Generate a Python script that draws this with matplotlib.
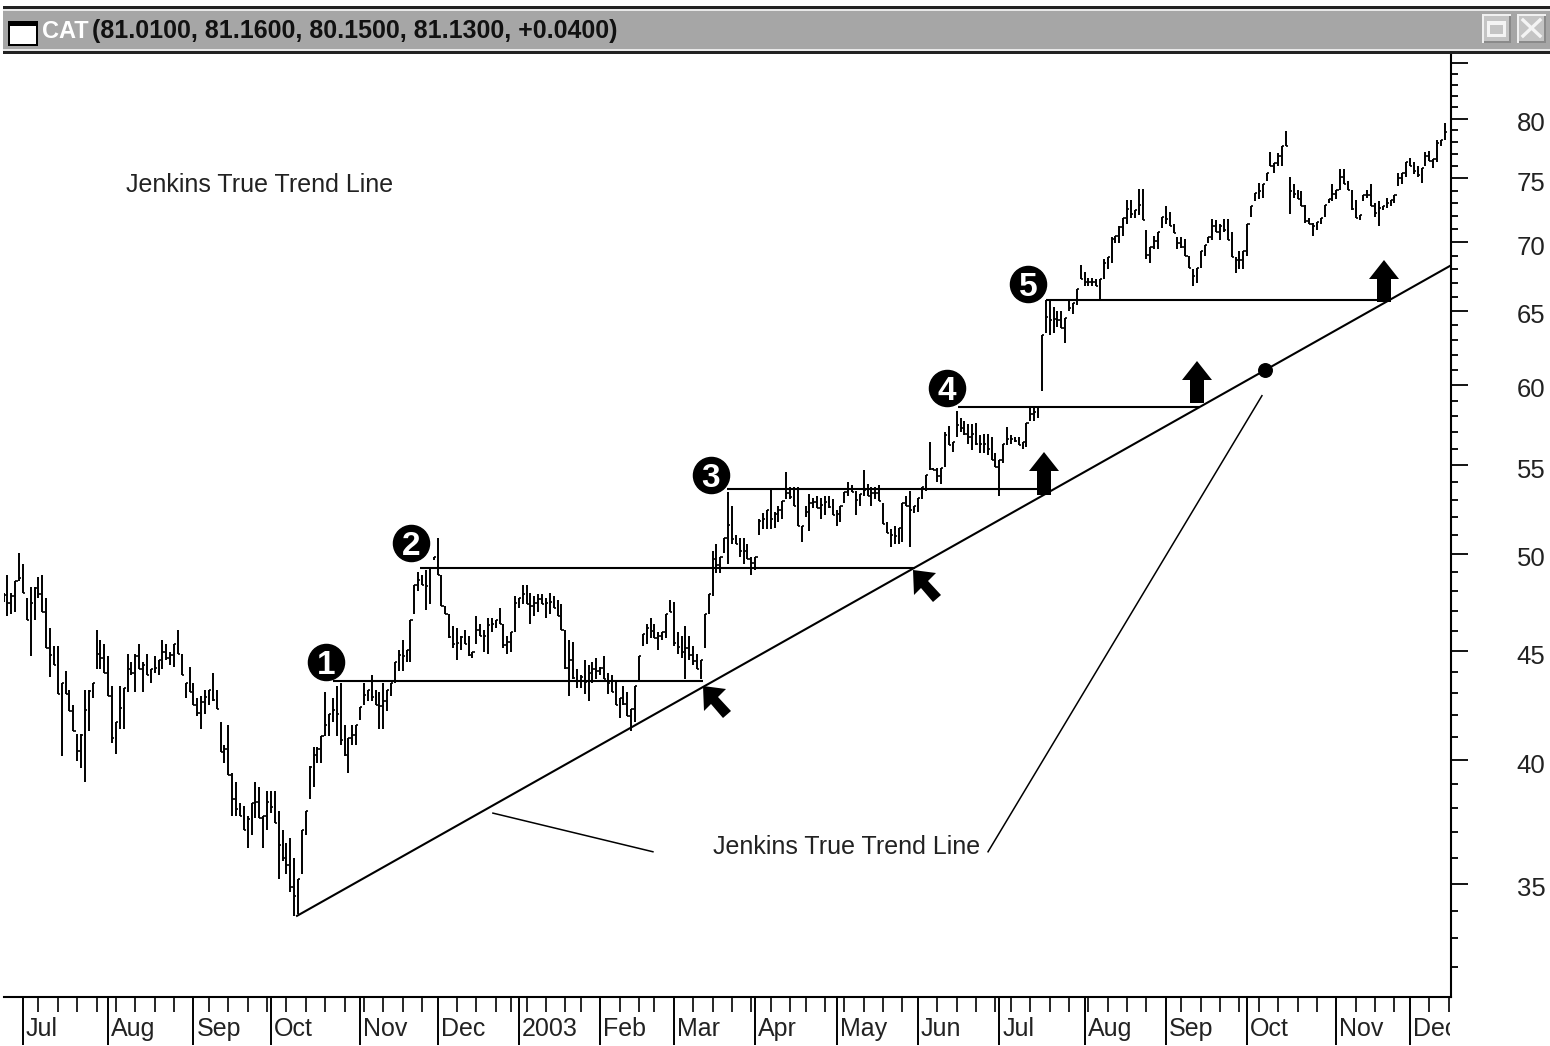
import numpy as np
import pandas as pd
import matplotlib
matplotlib.use("Agg")
import matplotlib.pyplot as plt
from matplotlib.patches import Rectangle, Polygon
from matplotlib.transforms import ScaledTranslation, Bbox
from matplotlib.ticker import FixedLocator, NullFormatter, FixedFormatter

plt.rcParams['font.family'] = ['Liberation Sans', 'DejaVu Sans']

jun02_hi = [48.1,49.0,48.1,48.7,50.2]
jun02_lo = [47.6,46.9,47.0,47.1,48.7]
jul02_hi = [49.6,47.8,48.4,48.4,48.9,49.0,47.8,46.3,45.4,45.4,43.6,44.2,43.3,42.6,41.3,41.3,43.3,43.3,43.6,46.2,45.7,45.5]
jul02_lo = [48.1,46.7,44.9,46.7,47.8,47.1,45.3,43.9,44.5,43.1,40.3,43.1,42.3,41.4,40.1,39.8,39.2,41.4,42.9,44.3,44.3,44.1]
aug02_hi = [44.9,43.5,41.8,43.5,43.4,45.0,44.6,45.0,45.5,44.6,45.0,44.3,44.9,44.7,45.7,45.5,45.1,45.5,46.2,45.0,43.6,44.4]
aug02_lo = [43.0,40.9,40.4,41.5,41.5,43.2,44.0,43.2,44.3,43.2,44.0,43.6,44.1,44.0,44.3,44.7,44.5,44.4,45.0,44.0,42.9,43.2]
sep02_hi = [43.6,42.9,43.0,43.3,43.3,44.1,43.3,41.8,40.8,41.7,39.6,39.2,38.3,38.2,37.8,38.3,39.2,39.0,37.8,38.8]
sep02_lo = [42.6,42.1,41.5,42.2,42.6,42.8,42.4,40.5,40.0,39.5,37.8,37.8,37.8,37.2,36.5,37.0,37.7,37.7,36.5,37.2]
oct02_hi = [38.8,38.8,38.0,37.2,36.7,36.9,36.1,35.3,37.2,38.0,39.9,40.7,40.7,41.2,43.2,42.2,42.9,43.5,43.6,41.7,41.1,41.7,41.7]
oct02_lo = [37.9,37.5,35.3,36.0,35.5,34.8,33.9,34.0,35.5,37.0,38.5,39.0,40.0,40.0,41.2,41.2,41.8,41.2,40.8,40.3,39.6,40.8,40.8]
nov02_hi = [42.5,43.6,43.3,44.0,43.3,43.2,43.6,43.3,43.6,44.6,45.2,45.7,45.2,46.7,48.5,49.2,49.0,49.3,49.4,50.0]
nov02_lo = [41.9,42.6,42.8,42.8,42.6,41.5,41.5,42.3,43.0,43.6,44.2,44.2,44.6,44.6,47.0,48.2,48.5,47.2,47.5,49.8]
dec02_hi = [51.0,49.0,47.4,47.0,46.4,46.3,45.9,46.2,45.9,45.1,46.9,46.5,46.2,46.8,46.8,46.7,47.3,46.5,45.9,46.1,47.9]
dec02_lo = [49.0,47.4,47.0,45.8,45.3,44.7,45.2,45.5,44.9,44.8,45.5,45.9,45.1,45.0,46.1,46.3,46.5,45.3,45.0,45.1,46.1]
jan03_hi = [47.8,48.5,48.5,48.1,47.9,48.0,48.0,47.8,48.1,47.9,47.7,47.5,46.2,45.7,45.6,44.3,44.0,44.7,44.5,44.6,44.8]
jan03_lo = [47.3,47.5,47.5,46.5,46.9,47.1,47.5,46.8,47.0,47.3,46.9,46.2,44.3,43.0,43.8,43.4,43.4,43.1,42.8,43.6,43.8]
feb03_hi = [44.4,44.9,44.1,44.0,43.7,42.9,43.5,43.2,42.4,43.5,44.9,46.0,46.5,46.8,46.5,46.1,46.1,47.0,47.7]
feb03_lo = [44.0,43.8,43.1,43.2,42.6,42.0,42.6,42.1,41.4,41.8,43.7,45.4,45.5,45.8,45.8,45.2,45.7,45.8,47.1]
mar03_hi = [47.6,46.1,45.9,46.4,45.9,45.4,45.0,44.7,47.0,48.0,50.3,50.7,50.0,51.0,53.6,52.8,51.2,51.0,51.0,50.7,50.0]
mar03_lo = [45.4,45.0,44.8,43.8,44.7,44.5,44.3,43.8,45.3,47.0,47.9,49.1,49.1,50.2,49.6,50.7,50.7,50.0,49.6,49.9,49.0]
apr03_hi = [50.0,52.1,52.4,52.6,53.8,52.5,52.8,53.1,54.8,53.9,53.9,53.9,51.7,52.8,53.5,53.3,53.4,53.3,53.4,53.4,53.2]
apr03_lo = [49.3,51.2,51.5,51.5,51.5,51.6,51.9,52.1,53.2,53.2,52.8,51.7,50.8,52.2,51.4,52.7,52.7,52.1,52.3,52.7,52.3]
may03_hi = [52.6,52.8,53.6,54.2,54.0,53.7,53.5,54.9,54.1,53.9,53.9,54.0,53.0,51.9,51.5,51.7,51.6,53.0,53.4,53.7,52.8]
may03_lo = [51.7,51.9,53.0,53.4,53.6,52.3,52.8,53.4,53.4,52.8,53.2,53.1,51.8,51.3,50.5,50.7,50.7,50.8,52.8,50.5,52.4]
jun03_hi = [53.3,53.9,54.6,56.6,55.0,55.0,55.0,57.2,57.6,56.6,58.5,58.1,57.9,57.7,57.7,57.8,57.0,57.1,57.1,56.9,55.9]
jun03_lo = [52.5,53.2,53.7,54.9,54.9,54.2,54.1,55.1,56.4,56.0,56.9,57.2,57.0,56.5,56.1,56.4,55.9,55.9,55.8,55.5,55.1]
jul03_hi = [55.5,56.5,57.5,57.0,56.9,56.9,56.6,57.8,58.7,58.8,58.8,63.5,66.0,66.0,65.5,65.2,65.2,64.7,65.9,65.8,66.8,68.5]
jul03_lo = [53.4,55.3,56.4,56.5,56.6,56.4,56.2,56.3,57.9,57.9,58.1,59.8,63.7,63.5,63.7,64.1,64.0,63.0,65.2,65.0,65.6,67.5]
aug03_hi = [68.0,67.6,67.6,67.5,67.5,69.0,69.1,70.6,70.7,71.5,72.1,73.5,73.5,72.7,74.4,74.4,71.2,69.9,70.7,71.0,72.2]
aug03_lo = [67.0,67.0,67.0,67.0,65.9,67.5,68.2,68.7,70.2,70.2,70.7,71.6,72.1,72.1,72.3,71.9,69.0,68.7,69.7,69.7,71.3]
sep03_hi = [73.0,72.6,71.6,70.6,70.6,70.5,69.2,68.2,68.3,69.6,70.0,70.6,72.0,71.9,71.6,72.0,72.0,71.0,69.1,69.6,69.6]
sep03_lo = [71.6,71.5,70.9,69.7,69.8,69.2,68.3,67.0,67.2,68.3,69.2,70.2,70.4,71.0,70.4,71.0,70.4,69.1,67.9,68.2,68.2]
oct03_hi = [71.6,73.0,74.1,74.9,74.8,75.7,77.4,76.5,77.3,77.9,79.2,75.4,74.8,74.3,74.2,73.1,72.1,71.7,71.8,72.1,73.1,73.6,74.8]
oct03_lo = [69.2,72.2,73.4,73.6,73.7,75.0,76.3,75.7,76.3,76.3,77.9,72.4,73.7,73.6,73.0,71.7,71.6,70.7,71.2,71.6,72.2,73.3,73.4]
nov03_hi = [74.3,76.0,76.0,75.0,74.3,73.5,72.3,73.9,74.3,74.8,73.3,73.4,73.0,73.7,73.5,73.9,75.7,75.7,76.6]
nov03_lo = [73.6,74.3,74.8,74.3,72.7,72.1,71.9,73.4,73.7,73.0,72.2,71.5,72.7,72.9,73.0,73.3,74.6,74.8,75.4]
dec03_hi = [76.9,76.6,76.3,76.1,77.4,77.5,76.8,78.4,78.4,79.9]
dec03_lo = [76.3,75.6,75.4,74.9,76.3,76.7,76.1,76.6,77.9,78.4]

month_labels = ['Jul','Aug','Sep','Oct','Nov','Dec','2003','Feb','Mar','Apr','May','Jun','Jul','Aug','Sep','Oct','Nov','Dec']
month_days = [22,22,20,23,20,21,21,19,21,21,21,21,22,21,21,23,19]
holidays = ['2002-07-04','2002-09-02','2002-11-28','2002-12-25','2003-01-01','2003-01-20','2003-02-17',
            '2003-04-18','2003-05-26','2003-07-04','2003-09-01','2003-11-27']

support_prices = [43.7,49.4,53.8,58.8,66.0]
support_start = [80.0,102.5,181.7,241.4,264.0]
support_end = [175.6,230.3,262.5,303.8,351.6]
trend_x = [70.5,368.6]
trend_y = [33.9,68.5]
call1_x = [121.3,162.6]
call1_y = [37.9,36.35]
call2_x = [249.1,319.8]
call2_y = [36.35,59.5]
dot_x = 320.6
dot_y = 61.2
price_ticks = [35,40,45,50,55,60,65,70,75,80,85]
price_labels = ['35','40','45','50','55','60','65','70','75','80','']
minor_prices = list(range(32,86))

CAL = 0.99676  # the price scale ticks sit 3 px above the reading scale
W, H = 1550, 1046
fig = plt.figure(figsize=(W/100, H/100), dpi=100, facecolor='white')
L, R, T, B = 4, 1451, 55, 997
ax = fig.add_axes([L/W, 1-B/H, (R-L)/W, (B-T)/H])
ax.set_yscale('log')
ax.set_xlim(-4.9, 368.6)
ax.set_ylim(30.97, 85.7)

highs = np.array(jun02_hi+jul02_hi+aug02_hi+sep02_hi+oct02_hi+nov02_hi+dec02_hi+jan03_hi+feb03_hi+mar03_hi+apr03_hi+may03_hi+jun03_hi+jul03_hi+aug03_hi+sep03_hi+oct03_hi+nov03_hi+dec03_hi)*CAL
lows = np.array(jun02_lo+jul02_lo+aug02_lo+sep02_lo+oct02_lo+nov02_lo+dec02_lo+jan03_lo+feb03_lo+mar03_lo+apr03_lo+may03_lo+jun03_lo+jul03_lo+aug03_lo+sep03_lo+oct03_lo+nov03_lo+dec03_lo)*CAL
days = np.arange(len(highs)) - len(jun02_hi)
ax.vlines(days, lows, highs, color='black', lw=1.4, zorder=3)
# short right-hand bar ticks, set towards the following bar
mids = (highs + lows) / 2
tick_y = np.clip(np.r_[mids[1:], mids[-1]], lows, highs)
ax.hlines(tick_y, days, days + 0.6, color='black', lw=1.2, zorder=3)

ax.hlines(np.array(support_prices)*CAL, support_start, support_end, color='black', lw=1.5, zorder=4)
ax.plot(trend_x, np.array(trend_y)*CAL, color='black', lw=1.5, zorder=4, solid_capstyle='butt')
ax.plot(call1_x, np.array(call1_y)*CAL, color='black', lw=1.1, zorder=4)
ax.plot(call2_x, np.array(call2_y)*CAL, color='black', lw=1.1, zorder=4)
ax.scatter([dot_x], [dot_y*CAL], s=95, color='black', zorder=5)

# axes furniture
for s in ('top', 'left'):
    ax.spines[s].set_visible(False)
ax.spines['right'].set_linewidth(1.5)
ax.spines['bottom'].set_linewidth(1.5)
ax.yaxis.tick_right()
ax.yaxis.set_major_locator(FixedLocator(price_ticks))
ax.yaxis.set_major_formatter(FixedFormatter(price_labels))
ax.yaxis.set_minor_locator(FixedLocator(minor_prices))
ax.yaxis.set_minor_formatter(NullFormatter())
ax.tick_params(axis='y', which='major', length=12.2, width=1.3, pad=35, labelsize=18.5, labelcolor='#222222')
ax.tick_params(axis='y', which='minor', length=5, width=1.3)

cal = pd.bdate_range('2002-07-01', '2003-12-31')
cal = cal[~cal.isin(pd.to_datetime(holidays))]
month_starts = np.cumsum([0]+month_days)
week_idx = [i for i in range(1, len(cal)) if cal[i].isocalendar()[1] != cal[i-1].isocalendar()[1]]
ax.xaxis.set_major_locator(FixedLocator(month_starts))
ax.xaxis.set_major_formatter(FixedFormatter(month_labels))
ax.xaxis.set_minor_locator(FixedLocator(week_idx))
ax.tick_params(axis='x', which='major', length=34.5, width=1.4, pad=-20, labelsize=18, labelcolor='#222222')
ax.tick_params(axis='x', which='minor', length=10.8, width=1.2)
fig.canvas.draw()
for lab in ax.get_yticklabels():
    lab.set_transform(lab.get_transform() + ScaledTranslation(0, -3/100, fig.dpi_scale_trans))
for lab in ax.get_xticklabels():
    lab.set_horizontalalignment('left')
    lab.set_transform(lab.get_transform() + ScaledTranslation(3/100, 0, fig.dpi_scale_trans))
    lab.set_clip_on(True)
    lab.set_clip_box(Bbox([[0, 0], [1450, H]]))

def fx(x): return x/W
def fy(y): return 1-y/H
tr = fig.transFigure

# title bar
def band(x0, y0, x1, y1, color):
    fig.add_artist(Rectangle((fx(x0), fy(y1)), (x1-x0)/W, (y1-y0)/H, transform=tr, fc=color, ec='none'))
band(3, 6, W, 9, '#222222')
band(3, 9, W, 11, '#e8e8e8')
band(3, 11, W, 49, '#a6a6a6')
band(3, 49, W, 51, '#e8e8e8')
band(3, 51, W, 54, '#222222')
band(8, 21, 38, 46, 'black')
band(10, 26, 36, 44, 'white')
fig.text(fx(42), fy(31), 'CAT', color='white', fontsize=17, fontweight='bold', va='center', ha='left')
fig.text(fx(92), fy(31), '(81.0100, 81.1600, 80.1500, 81.1300, +0.0400)', color='#111111',
         fontsize=18, fontweight='bold', va='center', ha='left')
for x0 in (1482, 1517):
    band(x0, 14, x0+29, 43, '#f0f0f0')
    band(x0+2, 16, x0+29, 43, '#8a8a8a')
    band(x0+2, 16, x0+27, 41, '#c4c4c4')
band(1487, 21, 1506, 37, '#f4f4f4')
band(1490, 25, 1503, 34, '#c4c4c4')
fig.add_artist(plt.Line2D([fx(1523), fx(1540)], [fy(20), fy(36)], color='#f4f4f4', lw=2.4))
fig.add_artist(plt.Line2D([fx(1523), fx(1540)], [fy(36), fy(20)], color='#f4f4f4', lw=2.4))

# captions
fig.text(fx(126), fy(185), 'Jenkins True Trend Line', fontsize=18, color='#222222', va='center', ha='left')
fig.text(fx(713), fy(847), 'Jenkins True Trend Line', fontsize=18, color='#222222', va='center', ha='left')

# numbered badges
badges = [('1', 326, 662), ('2', 411, 543), ('3', 711, 475), ('4', 947, 388), ('5', 1028, 284)]
for n, x, y in badges:
    fig.add_artist(plt.Line2D([fx(x)], [fy(y)], marker='o', ms=26, color='black', mec='black', ls='none'))
    fig.text(fx(x), fy(y), n, color='white', fontsize=24, fontweight='bold', va='center_baseline', ha='center', zorder=10)

def poly(points):
    fig.add_artist(Polygon([(fx(x), fy(y)) for x, y in points], closed=True, transform=tr, fc='black', ec='none', zorder=6))

# up arrows
for cx, top, bot in ((1044, 452, 495), (1197, 361, 403), (1384, 260, 302)):
    neck = top+19
    poly([(cx, top), (cx+15, neck), (cx+7, neck), (cx+7, bot), (cx-7, bot), (cx-7, neck), (cx-15, neck)])

# diagonal arrows
for tx, ty in ((703, 686), (913, 570)):
    poly([(tx, ty), (tx+23, ty+3), (tx+15, ty+11), (tx+28, ty+25), (tx+20, ty+32),
          (tx+8, ty+18), (tx+1, ty+25)])

fig.savefig('out.png', dpi=100, facecolor='white')
